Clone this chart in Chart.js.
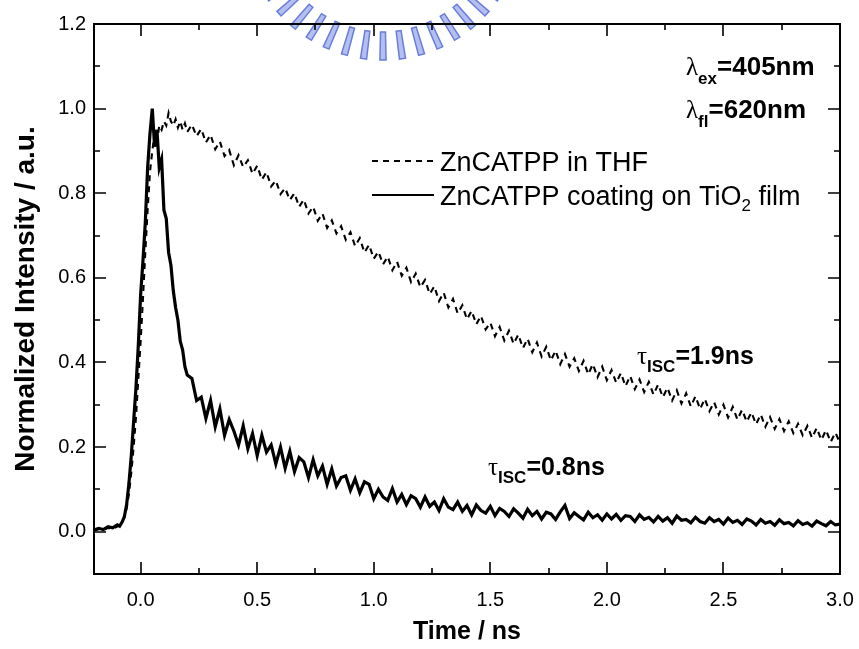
<!DOCTYPE html>
<html>
<head>
<meta charset="utf-8">
<title>ZnCATPP fluorescence decay</title>
<script src="https://cdn.jsdelivr.net/npm/chart.js@4.4.1/dist/chart.umd.min.js"></script>
<style>
  html, body { margin: 0; padding: 0; background: #fff; }
  #wrap { width: 859px; height: 649px; }
</style>
</head>
<body>
<div id="wrap"><canvas id="decayChart" width="859" height="649"></canvas></div>
<script>
// time axis (ns)
const timeNs = [
  -0.20, -0.18, -0.16, -0.14, -0.12, -0.10,
  -0.09, -0.08, -0.07, -0.06, -0.05, -0.04, -0.03, -0.02, -0.01, 0.00,
  0.01, 0.02, 0.03, 0.04, 0.05, 0.06, 0.07, 0.08, 0.09, 0.10,
  0.11, 0.12, 0.13, 0.14, 0.15, 0.16, 0.17, 0.18, 0.19, 0.20,
  0.22, 0.24, 0.26, 0.28, 0.30, 0.32, 0.34, 0.36, 0.38, 0.40,
  0.42, 0.44, 0.46, 0.48, 0.50, 0.52, 0.54, 0.56, 0.58, 0.60,
  0.62, 0.64, 0.66, 0.68, 0.70, 0.72, 0.74, 0.76, 0.78, 0.80,
  0.82, 0.84, 0.86, 0.88, 0.90, 0.92, 0.94, 0.96, 0.98, 1.00,
  1.02, 1.04, 1.06, 1.08, 1.10, 1.12, 1.14, 1.16, 1.18, 1.20,
  1.22, 1.24, 1.26, 1.28, 1.30, 1.32, 1.34, 1.36, 1.38, 1.40,
  1.42, 1.44, 1.46, 1.48, 1.50, 1.52, 1.54, 1.56, 1.58, 1.60,
  1.62, 1.64, 1.66, 1.68, 1.70, 1.72, 1.74, 1.76, 1.78, 1.80,
  1.82, 1.84, 1.86, 1.88, 1.90, 1.92, 1.94, 1.96, 1.98, 2.00,
  2.02, 2.04, 2.06, 2.08, 2.10, 2.12, 2.14, 2.16, 2.18, 2.20,
  2.22, 2.24, 2.26, 2.28, 2.30, 2.32, 2.34, 2.36, 2.38, 2.40,
  2.42, 2.44, 2.46, 2.48, 2.50, 2.52, 2.54, 2.56, 2.58, 2.60,
  2.62, 2.64, 2.66, 2.68, 2.70, 2.72, 2.74, 2.76, 2.78, 2.80,
  2.82, 2.84, 2.86, 2.88, 2.90, 2.92, 2.94, 2.96, 2.98, 3.00
];

// ZnCATPP in THF (dashed)
const thfIntensity = [
  0.002, 0.006, 0.004, 0.009, 0.007, 0.012,
  0.015, 0.022, 0.033, 0.055, 0.09, 0.14, 0.20, 0.27, 0.36, 0.45,
  0.55, 0.66, 0.76, 0.85, 0.90, 0.94, 0.92, 0.96, 0.95, 0.97,
  0.96, 0.99, 0.97, 0.96, 0.975, 0.955, 0.97, 0.95, 0.965, 0.945,
  0.962, 0.935, 0.952, 0.92, 0.938, 0.904, 0.922, 0.888, 0.902, 0.866,
  0.89, 0.862, 0.878, 0.846, 0.865, 0.832, 0.85, 0.816, 0.83, 0.798,
  0.812, 0.784, 0.80, 0.768, 0.785, 0.752, 0.768, 0.735, 0.752, 0.718,
  0.736, 0.705, 0.722, 0.69, 0.708, 0.675, 0.694, 0.66, 0.678, 0.645,
  0.662, 0.632, 0.65, 0.618, 0.638, 0.605, 0.624, 0.59, 0.61, 0.578,
  0.595, 0.562, 0.58, 0.545, 0.565, 0.53, 0.55, 0.516, 0.535, 0.502,
  0.522, 0.49, 0.51, 0.478, 0.494, 0.462, 0.484, 0.452, 0.475, 0.444,
  0.466, 0.434, 0.456, 0.424, 0.447, 0.414, 0.437, 0.405, 0.428, 0.396,
  0.42, 0.39, 0.41, 0.38, 0.404, 0.372, 0.396, 0.365, 0.39, 0.358,
  0.382, 0.352, 0.375, 0.344, 0.368, 0.337, 0.36, 0.33, 0.354, 0.324,
  0.348, 0.318, 0.34, 0.31, 0.334, 0.303, 0.327, 0.296, 0.32, 0.29,
  0.314, 0.285, 0.306, 0.277, 0.30, 0.27, 0.295, 0.265, 0.288, 0.26,
  0.282, 0.254, 0.277, 0.248, 0.271, 0.243, 0.266, 0.238, 0.261, 0.233,
  0.255, 0.228, 0.25, 0.222, 0.245, 0.217, 0.24, 0.212, 0.234, 0.21
];

// ZnCATPP coating on TiO2 film (solid)
const filmIntensity = [
  0.004, 0.008, 0.005, 0.012, 0.009, 0.016,
  0.013, 0.022, 0.035, 0.064, 0.115, 0.18, 0.26, 0.34, 0.44, 0.56,
  0.64, 0.73, 0.86, 0.94, 1.00, 0.91, 0.95, 0.86, 0.88, 0.76,
  0.74, 0.66, 0.63, 0.57, 0.53, 0.50, 0.45, 0.43, 0.39, 0.37,
  0.362, 0.31, 0.318, 0.268, 0.31, 0.248, 0.29, 0.228, 0.265, 0.238,
  0.205, 0.25, 0.196, 0.232, 0.18, 0.228, 0.188, 0.205, 0.16, 0.20,
  0.15, 0.19, 0.142, 0.175, 0.165, 0.128, 0.17, 0.132, 0.155, 0.112,
  0.148, 0.108, 0.128, 0.132, 0.098, 0.125, 0.092, 0.118, 0.112, 0.078,
  0.10, 0.082, 0.074, 0.102, 0.07, 0.088, 0.064, 0.085, 0.078, 0.058,
  0.082, 0.06, 0.07, 0.05, 0.078, 0.058, 0.052, 0.07, 0.048, 0.062,
  0.04, 0.063, 0.05, 0.044, 0.06, 0.038, 0.055, 0.048, 0.036, 0.054,
  0.044, 0.032, 0.053, 0.038, 0.048, 0.03, 0.046, 0.042, 0.029, 0.047,
  0.062, 0.031, 0.045, 0.036, 0.028, 0.046, 0.033, 0.04, 0.027, 0.042,
  0.03, 0.041, 0.027, 0.038, 0.036, 0.024, 0.04, 0.029, 0.034, 0.023,
  0.036, 0.025, 0.033, 0.02, 0.037, 0.027, 0.029, 0.021, 0.034, 0.024,
  0.02, 0.033, 0.024, 0.029, 0.018, 0.032, 0.022, 0.027, 0.017, 0.03,
  0.025, 0.016, 0.029, 0.02, 0.024, 0.015, 0.028, 0.019, 0.022, 0.014,
  0.026, 0.017, 0.021, 0.013, 0.025, 0.019, 0.014, 0.024, 0.016, 0.018
];

const xTickValues = [0.0, 0.5, 1.0, 1.5, 2.0, 2.5, 3.0];
const xMinorValues = [0.25, 0.75, 1.25, 1.75, 2.25, 2.75];
const yTickValues = [0.0, 0.2, 0.4, 0.6, 0.8, 1.0, 1.2];
const yMinorValues = [0.1, 0.3, 0.5, 0.7, 0.9, 1.1];

const seriesNames = ['ZnCATPP in THF', 'ZnCATPP coating on TiO'];

const FONT = "'Liberation Sans', Arial, sans-serif";

// draws pieces of text one after another (for subscripts)
function drawParts(ctx, x, y, parts) {
  parts.forEach(p => {
    ctx.font = p.font;
    ctx.fillText(p.text, x, y + (p.dy || 0));
    x += ctx.measureText(p.text).width;
  });
}

// blue watermark ring at the top
const watermark = {
  id: 'watermark',
  beforeDraw(chart) {
    const ctx = chart.ctx;
    const cx = 383, cy = -80;
    ctx.save();
    ctx.fillStyle = '#b3bff0';
    ctx.strokeStyle = '#6a7ddb';
    ctx.lineWidth = 1.5;
    for (let k = 0; k <= 18; k++) {
      const a = (18 + k * 8) * Math.PI / 180;
      const w = 0.022;
      const r1 = 112, r2 = 140;
      ctx.beginPath();
      ctx.moveTo(cx + r1 * Math.cos(a - w), cy + r1 * Math.sin(a - w));
      ctx.lineTo(cx + r2 * Math.cos(a - w), cy + r2 * Math.sin(a - w));
      ctx.lineTo(cx + r2 * Math.cos(a + w), cy + r2 * Math.sin(a + w));
      ctx.lineTo(cx + r1 * Math.cos(a + w), cy + r1 * Math.sin(a + w));
      ctx.closePath();
      ctx.fill();
      ctx.stroke();
    }
    ctx.restore();
  }
};

// box around the plot and inward ticks on all four sides
const frameTicks = {
  id: 'frameTicks',
  afterDraw(chart) {
    const {ctx, chartArea: a, scales: {x, y}} = chart;
    ctx.save();
    ctx.strokeStyle = '#000';
    ctx.lineWidth = 2;
    ctx.strokeRect(a.left, a.top, a.right - a.left, a.bottom - a.top);
    ctx.lineWidth = 1.6;
    ctx.beginPath();
    const xt = (vals, len) => vals.forEach(v => {
      const px = Math.round(x.getPixelForValue(v));
      ctx.moveTo(px, a.bottom); ctx.lineTo(px, a.bottom - len);
      ctx.moveTo(px, a.top); ctx.lineTo(px, a.top + len);
    });
    const yt = (vals, len) => vals.forEach(v => {
      const py = Math.round(y.getPixelForValue(v));
      ctx.moveTo(a.left, py); ctx.lineTo(a.left + len, py);
      ctx.moveTo(a.right, py); ctx.lineTo(a.right - len, py);
    });
    xt(xTickValues, 12); xt(xMinorValues, 6);
    yt(yTickValues, 12); yt(yMinorValues, 6);
    ctx.stroke();
    ctx.restore();
  }
};

// legend inside the plot plus the lambda / tau notes
const notes = {
  id: 'notes',
  afterDraw(chart) {
    const ctx = chart.ctx;
    const ds = chart.data.datasets;
    ctx.save();
    ctx.fillStyle = '#000';
    ctx.strokeStyle = '#000';
    ctx.textBaseline = 'alphabetic';

    const rows = [161, 195];
    ds.forEach((d, i) => {
      ctx.lineWidth = 2;
      ctx.setLineDash(d.borderDash || []);
      ctx.beginPath();
      ctx.moveTo(372, rows[i]);
      ctx.lineTo(434, rows[i]);
      ctx.stroke();
    });
    ctx.setLineDash([]);
    const lf = '27px ' + FONT;
    drawParts(ctx, 440, rows[0] + 10, [{text: seriesNames[0], font: lf}]);
    drawParts(ctx, 440, rows[1] + 10, [
      {text: seriesNames[1], font: lf},
      {text: '2', font: '17px ' + FONT, dy: 6},
      {text: ' film', font: lf}
    ]);

    const bold = 'bold 26px ' + FONT;
    const sub = 'bold 17px ' + FONT;
    const greek = "25px 'Liberation Serif', serif";
    drawParts(ctx, 686, 75, [
      {text: 'λ', font: greek}, {text: 'ex', font: sub, dy: 9}, {text: '=405nm', font: bold}
    ]);
    drawParts(ctx, 686, 118, [
      {text: 'λ', font: greek}, {text: 'fl', font: sub, dy: 9}, {text: '=620nm', font: bold}
    ]);
    const tb = 'bold 25px ' + FONT;
    drawParts(ctx, 637, 364, [
      {text: 'τ', font: greek}, {text: 'ISC', font: sub, dy: 8}, {text: '=1.9ns', font: tb}
    ]);
    drawParts(ctx, 488, 475, [
      {text: 'τ', font: greek}, {text: 'ISC', font: sub, dy: 8}, {text: '=0.8ns', font: tb}
    ]);
    ctx.restore();
  }
};

const ctx = document.getElementById('decayChart');

new Chart(ctx, {
  type: 'line',
  data: {
    datasets: [{
      label: seriesNames[0],
      data: timeNs.map((t, i) => ({x: t, y: thfIntensity[i]})),
      borderColor: '#000',
      borderWidth: 2.1,
      borderDash: [6, 5],
      pointRadius: 0,
      tension: 0
    }, {
      label: seriesNames[1] + '2 film',
      data: timeNs.map((t, i) => ({x: t, y: filmIntensity[i]})),
      borderColor: '#000',
      borderWidth: 3.2,
      pointRadius: 0,
      tension: 0
    }]
  },
  options: {
    responsive: false,
    animation: false,
    layout: { padding: { top: 24, right: 19, left: 0, bottom: 0 } },
    plugins: {
      legend: { display: false },
      tooltip: { enabled: false }
    },
    scales: {
      x: {
        type: 'linear',
        min: -0.2,
        max: 3.0,
        afterBuildTicks: s => { s.ticks = xTickValues.map(v => ({value: v})); },
        afterFit: s => { s.height = 75; s.paddingLeft = 0; s.paddingRight = 0; },
        grid: { display: false, drawTicks: false },
        border: { display: false },
        ticks: {
          color: '#000',
          padding: 14,
          font: { family: FONT, size: 20 },
          callback: v => v.toFixed(1)
        },
        title: {
          display: true,
          text: 'Time / ns',
          color: '#000',
          font: { family: FONT, size: 25, weight: 'bold' },
          padding: { top: 0, bottom: 2 }
        }
      },
      y: {
        min: -0.1,
        max: 1.2,
        afterBuildTicks: s => { s.ticks = yTickValues.map(v => ({value: v})); },
        afterFit: s => { s.width = 94; },
        grid: { display: false, drawTicks: false },
        border: { display: false },
        ticks: {
          color: '#000',
          padding: 8,
          font: { family: FONT, size: 20 },
          callback: v => v.toFixed(1)
        },
        title: {
          display: true,
          text: 'Normalized Intensity / a.u.',
          color: '#000',
          font: { family: FONT, size: 28, weight: 'bold' },
          padding: { top: 9, bottom: 0 }
        }
      }
    }
  },
  plugins: [watermark, frameTicks, notes]
});
</script>
</body>
</html>
